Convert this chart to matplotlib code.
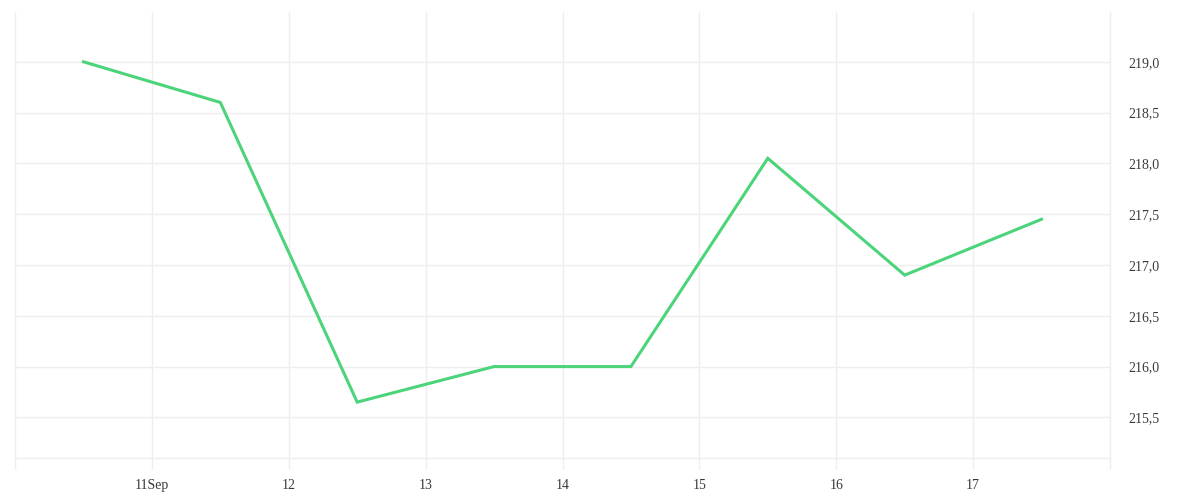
import matplotlib
matplotlib.use("Agg")
import matplotlib.pyplot as plt
import matplotlib.dates as mdates
import matplotlib.ticker as mticker
import numpy as np
import pandas as pd

# values (daily points at noon)
dates = ["2023-09-10 12:00", "2023-09-11 12:00", "2023-09-12 12:00", "2023-09-13 12:00",
         "2023-09-14 12:00", "2023-09-15 12:00", "2023-09-16 12:00", "2023-09-17 12:00"]
values = [219.0, 218.6, 215.65, 216.0, 216.0, 218.05, 216.9, 217.45]
tick_days = ["2023-09-11", "2023-09-12", "2023-09-13", "2023-09-14",
             "2023-09-15", "2023-09-16", "2023-09-17"]
tick_labels = ["11Sep", "12", "13", "14", "15", "16", "17"]
y_ticks = [215.5, 216.0, 216.5, 217.0, 217.5, 218.0, 218.5, 219.0]

plt.rcParams['font.family'] = ['Liberation Serif', 'DejaVu Serif']

x = mdates.date2num(pd.to_datetime(dates))
xt = mdates.date2num(pd.to_datetime(tick_days))

fig = plt.figure(figsize=(12, 5), dpi=100)
ax = fig.add_axes([15 / 1200, 1 - 458 / 500, (1110 - 15) / 1200, (458 - 12) / 500])

grid_c = "#eeeeee"
ax.plot(x, values, color="#4cd47b", linewidth=2.2, solid_joinstyle="miter", zorder=3)

x0 = mdates.date2num(pd.Timestamp("2023-09-10"))
x1 = mdates.date2num(pd.Timestamp("2023-09-18"))
ax.set_xlim(x0, x1)
ax.set_ylim(215.1, 219.49)

ax.set_xticks(xt)
ax.set_xticklabels(tick_labels)
ax.set_xticks([x0, x1], minor=True)
ax.tick_params(axis="x", which="both", length=8, width=1, color=grid_c,
               labelsize=10, labelcolor="#3a3a3a", pad=7)
ax.grid(axis="x", color=grid_c, linewidth=1)

ax.yaxis.tick_right()
ax.set_yticks(y_ticks)
ax.yaxis.set_major_formatter(mticker.FuncFormatter(lambda v, p: f"{v:.1f}".replace(".", ",")))
ax.tick_params(axis="y", length=0, labelsize=10, labelcolor="#3a3a3a", pad=13)
for lab in ax.get_yticklabels():
    lab.set_horizontalalignment("left")
ax.grid(axis="y", color=grid_c, linewidth=1)

ax.spines["top"].set_visible(False)
for s in ["left", "right", "bottom"]:
    ax.spines[s].set_color(grid_c)
    ax.spines[s].set_linewidth(1)

fig.savefig("out.png", dpi=100)
